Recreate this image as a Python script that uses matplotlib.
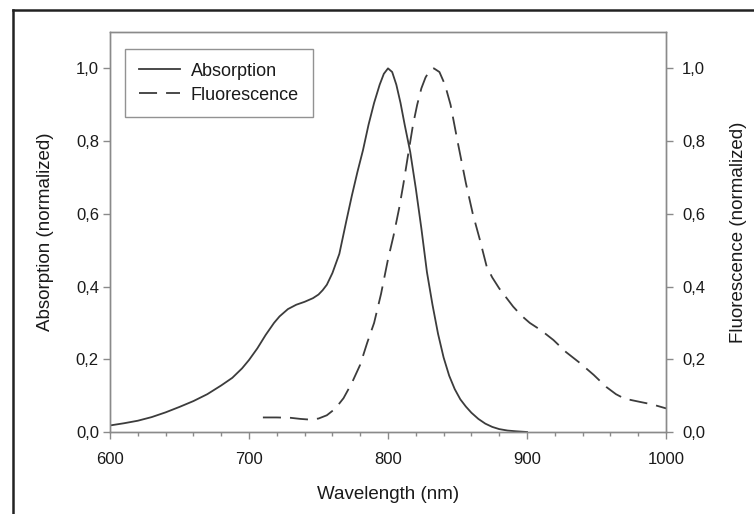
import matplotlib
matplotlib.use("Agg")
import matplotlib.pyplot as plt
from matplotlib.lines import Line2D

plt.rcParams['font.family'] = ['Liberation Sans', 'DejaVu Sans']

abs_wl = [600, 610, 620, 630, 640, 650, 660, 670, 680, 688, 695, 700, 706, 712, 718, 722,
          728, 734, 740, 746, 750, 753, 756, 760, 765, 770, 774, 778, 782, 786, 790, 794,
          797, 800, 803, 806, 809, 812, 816, 820, 824, 828, 832, 836, 840, 844, 848, 852,
          856, 860, 865, 870, 875, 880, 886, 892, 900]
abs_val = [0.018, 0.024, 0.031, 0.041, 0.054, 0.069, 0.085, 0.104, 0.128, 0.149, 0.175,
           0.198, 0.23, 0.267, 0.30, 0.318, 0.338, 0.35, 0.358, 0.368, 0.378, 0.39, 0.405,
           0.437, 0.49, 0.58, 0.65, 0.715, 0.775, 0.845, 0.905, 0.955, 0.985, 1.0, 0.99,
           0.955, 0.905, 0.845, 0.77, 0.67, 0.56, 0.44, 0.35, 0.27, 0.205, 0.155, 0.118,
           0.09, 0.07, 0.053, 0.036, 0.023, 0.014, 0.008, 0.004, 0.002, 0.0]

flu_wl = [710, 720, 730, 737, 744, 750, 756, 762, 768, 774, 780, 785, 790, 795, 800, 804,
          808, 811, 815, 818, 821, 824, 827, 830, 833, 837, 841, 845, 850, 856, 861, 866,
          871, 875, 880, 885, 890, 896, 902, 910, 919, 928, 938, 948, 957, 964, 970, 976,
          981, 990, 1000]
flu_val = [0.040, 0.040, 0.039, 0.036, 0.034, 0.037, 0.046, 0.064, 0.093, 0.135, 0.185,
           0.245, 0.30, 0.38, 0.475, 0.54, 0.615, 0.68, 0.775, 0.845, 0.90, 0.945, 0.975,
           0.994, 1.0, 0.99, 0.955, 0.90, 0.80, 0.685, 0.60, 0.53, 0.455, 0.425, 0.395,
           0.37, 0.345, 0.32, 0.30, 0.28, 0.253, 0.22, 0.19, 0.157, 0.124, 0.104, 0.092,
           0.087, 0.083, 0.076, 0.065]

x_ticks = [600, 700, 800, 900, 1000]
y_ticks = [0.0, 0.2, 0.4, 0.6, 0.8, 1.0]
y_ticklabels = ["0,0", "0,2", "0,4", "0,6", "0,8", "1,0"]

fig = plt.figure(figsize=(7.54, 5.14), dpi=100)
ax = fig.add_axes([110/754, 1-432/514, 556/754, 400/514])
ax2 = ax.twinx()

line_c = '#3c3c3c'
spine_c = '#8a8a8a'
text_c = '#1a1a1a'

l1, = ax.plot(abs_wl, abs_val, color=line_c, lw=1.3, label='Absorption')
l2, = ax2.plot(flu_wl, flu_val, color=line_c, lw=1.3, linestyle=(0, (10, 5)), label='Fluorescence')

for a in (ax, ax2):
    a.set_xlim(600, 1000)
    a.set_ylim(0, 1.1)
    a.set_yticks(y_ticks)
    a.set_yticklabels(y_ticklabels)
    for s in a.spines.values():
        s.set_color(spine_c)
        s.set_linewidth(1.0)
    a.tick_params(axis='both', direction='out', length=5, width=1.0, color=spine_c,
                  labelsize=12, labelcolor=text_c, pad=3)

ax2.tick_params(axis='y', pad=6.5)
ax.set_xticks(x_ticks)
ax.set_xticks(range(600, 1001, 20), minor=True)
ax.tick_params(axis='x', which='minor', direction='out', length=3, width=1.0, color=spine_c)
ax.tick_params(axis='x', pad=9.5)

ax.set_xlabel('Wavelength (nm)', fontsize=13.5, color=text_c, labelpad=13.5)
ax.set_ylabel('Absorption (normalized)', fontsize=13.5, color=text_c, labelpad=16)
ax2.set_ylabel('Fluorescence (normalized)', fontsize=13.5, color=text_c, labelpad=18, rotation=90)

leg = ax.legend(handles=[l1, l2], loc='upper left', bbox_to_anchor=(0.027, 0.9575),
                frameon=True, fancybox=False, edgecolor='#777777', fontsize=13,
                handlelength=2.3, handletextpad=0.6, borderpad=0.75, labelspacing=0.4,
                borderaxespad=0)
leg.get_frame().set_linewidth(1.0)
for t in leg.get_texts():
    t.set_color(text_c)

# outer frame (cropped on right and bottom)
fig.add_artist(Line2D([13/754, 1.0], [1-10/514, 1-10/514], transform=fig.transFigure,
                      color='#222222', lw=1.8))
fig.add_artist(Line2D([13/754, 13/754], [0.0, 1-10/514], transform=fig.transFigure,
                      color='#222222', lw=1.8))

fig.savefig('out.png', dpi=100)
